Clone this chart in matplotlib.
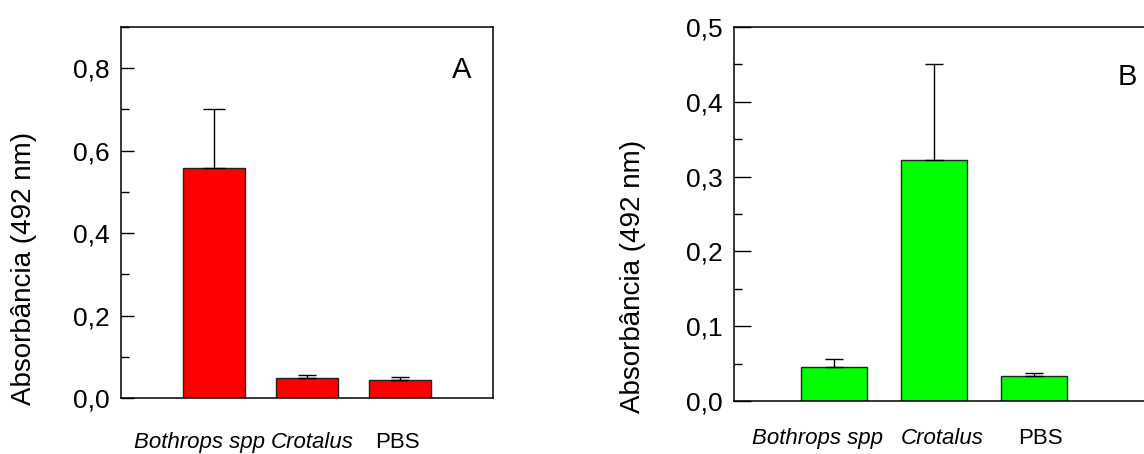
import matplotlib
matplotlib.use("Agg")
import matplotlib.pyplot as plt
from matplotlib.ticker import MultipleLocator, FuncFormatter

plt.rcParams['font.family'] = ['Liberation Sans', 'DejaVu Sans']

categories = ["Bothrops spp", "Crotalus", "PBS"]
label_italic = [True, True, False]

values_a = [0.558, 0.048, 0.044]
errors_a = [0.143, 0.008, 0.007]

values_b = [0.046, 0.322, 0.033]
errors_b = [0.010, 0.128, 0.005]

fig = plt.figure(figsize=(11.44, 4.54), dpi=100)

comma = FuncFormatter(lambda v, p: f"{v:.1f}".replace('.', ','))


def panel(ax, values, errors, color, ylim, major, minor, letter, letter_xy,
          major_len, xlim_right, bar_w, label_offsets, label_y, caps,
          ylabel_xy):
    x = [1, 2, 3]
    ax.bar(x, values, width=bar_w, color=color, edgecolor='#222222',
           linewidth=1.0, zorder=2)
    for xi, v, e, cs in zip(x, values, errors, caps):
        ax.errorbar([xi], [v], yerr=[[0], [e]], fmt='none', ecolor='black',
                    elinewidth=1.0, capsize=cs, capthick=1.0, zorder=3)
    ax.set_xlim(0, xlim_right)
    ax.set_ylim(*ylim)
    ax.yaxis.set_major_locator(MultipleLocator(major))
    ax.yaxis.set_minor_locator(MultipleLocator(minor))
    ax.yaxis.set_major_formatter(comma)
    ax.tick_params(axis='y', which='major', direction='in', length=major_len,
                   width=1.0, labelsize=19, pad=8)
    ax.tick_params(axis='y', which='minor', direction='in', length=6, width=1.0)
    ax.set_xticks(x)
    ax.set_xticklabels([])
    ax.tick_params(axis='x', direction='in', length=1.5, width=0.8, color='#888888')
    for xi, name, it, off in zip(x, categories, label_italic, label_offsets):
        ax.text(xi + off, label_y, name, transform=ax.get_xaxis_transform(),
                ha='center', va='center', fontsize=16,
                style='italic' if it else 'normal')
    for s in ax.spines.values():
        s.set_linewidth(1.1)
    ax.set_ylabel("Absorbância (492 nm)", fontsize=20)
    ax.yaxis.set_label_coords(*ylabel_xy)
    ax.text(letter_xy[0], letter_xy[1], letter, transform=ax.transAxes,
            fontsize=21, ha='center', va='center')


ax_a = fig.add_axes([121 / 1144, 56 / 454, 372 / 1144, 371 / 454])
panel(ax_a, values_a, errors_a, '#ff0000', (0, 0.9), 0.2, 0.1, 'A',
      (0.915, 0.885), 9, 4, 0.66, [-0.16, 0.06, -0.03], -0.119,
      [8, 6.5, 6.5], (-84 / 372, 0.348))

ax_b = fig.add_axes([734 / 1144, 53 / 454, 430 / 1144, 374 / 454])
panel(ax_b, values_b, errors_b, '#00ff00', (0, 0.5), 0.1, 0.05, 'B',
      (3.93 / 4.3, 0.865), 12, 4.3, 0.667, [-0.16, 0.08, 0.06], -0.099,
      [6.5, 6.5, 6.5], (-88 / 430, 0.332))

fig.savefig("out.png", dpi=100)
